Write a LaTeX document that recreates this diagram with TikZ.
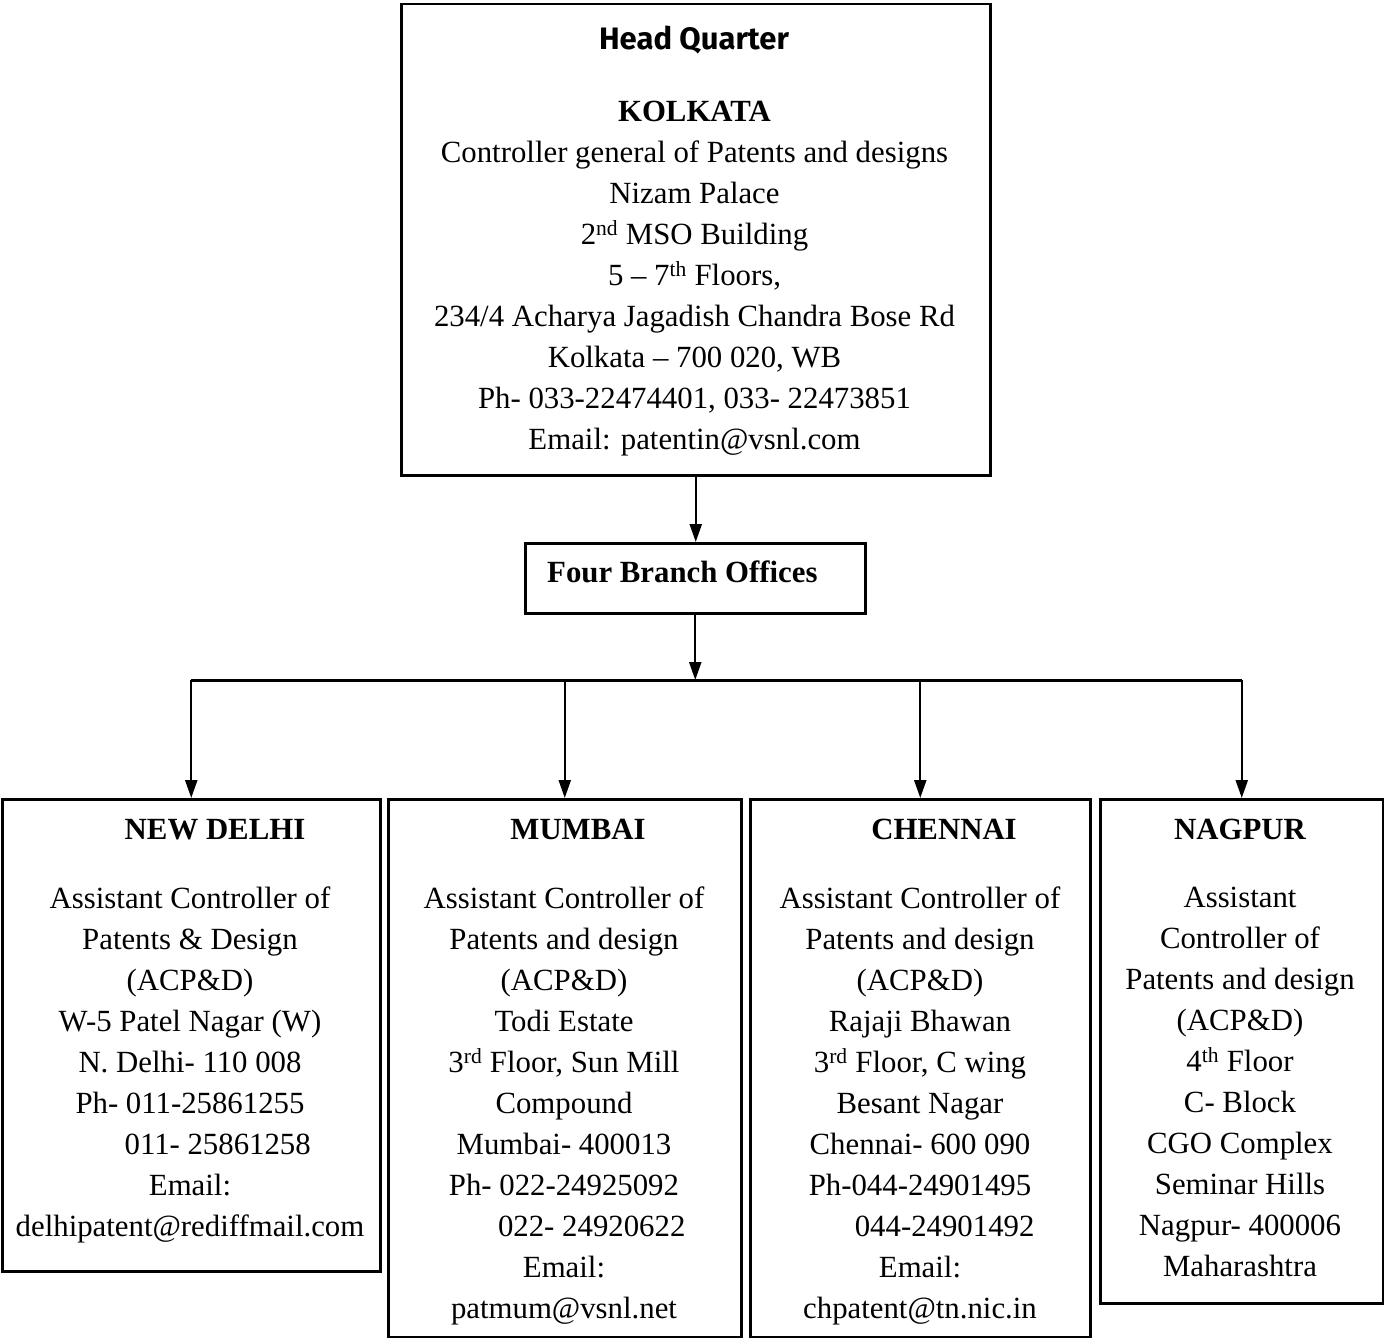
\documentclass[tikz,border=0pt]{standalone}
\usepackage{fontspec}
\setmainfont{Liberation Serif}
\newfontfamily\hqfont{Fira Sans}
\usetikzlibrary{arrows.meta,positioning}
\begin{document}
\begin{tikzpicture}[x=1pt,y=-1pt,
	officebox/.style={draw,line width=2.5pt,anchor=north west,inner sep=0pt},
	textstyle/.style={inner sep=0pt,align=center,font=\fontsize{30.8}{41}\selectfont},
	titlestyle/.style={inner sep=0pt,anchor=base,font=\fontsize{30.8}{41}\selectfont\bfseries},
	conn/.style={line width=2.3pt,-{Triangle[length=18pt,width=12pt]}}]
				\useasboundingbox (0,0) rectangle (1384,1338);
				\node [officebox,minimum width=589,minimum height=471] (hq) at (400,3) {};
				\node [inner sep=0pt,anchor=base,font=\hqfont\fontsize{31}{41}\selectfont\bfseries] (hqtitle) at (694,50) {Head Quarter};
				\node [textstyle,anchor=north] (hqtext) at (694.5,101) {\textbf{KOLKATA}\\
					Controller general of Patents and designs\\
					Nizam Palace\\
					2\textsuperscript{nd} MSO Building\\
					5 -- 7\textsuperscript{th} Floors,\\
					234/4 Acharya Jagadish Chandra Bose Rd\\
					Kolkata -- 700 020, WB\\
					Ph- 033-22474401, 033- 22473851\\
					Email: patentin@vsnl.com};
				
				\node [officebox,minimum width=340,minimum height=70] (branch) at (524,542) {};
				\node [titlestyle,anchor=base west] (branchtext) at (547,582) {Four Branch Offices};
				
				\node [officebox,minimum width=378,minimum height=472] (delhi) at (1,798) {};
				\node [officebox,minimum width=353,minimum height=538] (mumbai) at (387,798) {};
				\node [officebox,minimum width=340,minimum height=538] (chennai) at (749,798) {};
				\node [officebox,minimum width=283,minimum height=504] (nagpur) at (1099,798) {};
				
				\node [titlestyle] (delhititle) at (215,839) {NEW DELHI};
				\node [titlestyle] (mumbaititle) at (578,839) {MUMBAI};
				\node [titlestyle] (chennaititle) at (944,839) {CHENNAI};
				\node [titlestyle] (nagpurtitle) at (1240,839) {NAGPUR};
				
				\node [textstyle,anchor=north] (delhitext) at (190,887) {Assistant Controller of\\
					Patents \& Design\\
					(ACP\&D)\\
					W-5 Patel Nagar (W)\\
					N. Delhi- 110 008\\
					Ph- 011-25861255\\
					\hspace*{1.8em}011- 25861258\\
					Email:\\
					delhipatent@rediffmail.com};
				\node [textstyle,anchor=north] (mumbaitext) at (564,887) {Assistant Controller of\\
					Patents and design\\
					(ACP\&D)\\
					Todi Estate\\
					3\textsuperscript{rd} Floor, Sun Mill\\
					Compound\\
					Mumbai- 400013\\
					Ph- 022-24925092\\
					\hspace*{1.8em}022- 24920622\\
					Email:\\
					patmum@vsnl.net};
				\node [textstyle,anchor=north] (chennaitext) at (920,887) {Assistant Controller of\\
					Patents and design\\
					(ACP\&D)\\
					Rajaji Bhawan\\
					3\textsuperscript{rd} Floor, C wing\\
					Besant Nagar\\
					Chennai- 600 090\\
					Ph-044-24901495\\
					\hspace*{1.6em}044-24901492\\
					Email:\\
					chpatent@tn.nic.in};
				\node [textstyle,anchor=north] (nagpurtext) at (1240,887) {Assistant\\
					Controller of\\
					Patents and design\\
					(ACP\&D)\\
					4\textsuperscript{th} Floor\\
					C- Block\\
					CGO Complex\\
					Seminar Hills\\
					Nagpur- 400006\\
					Maharashtra};
				
				\coordinate (bus) at (branch.south |- 0,680);
				\draw[conn] (hq.south) -- (hq.south |- branch.north);
				\draw[conn] (branch.south) -- (bus);
				\draw[line width=3pt] (delhi.north |- bus) -- (nagpur.north |- bus);
				\foreach \b in {delhi,mumbai,chennai,nagpur}
				\draw[conn] (\b.north |- bus) -- (\b.north);
				
			\end{tikzpicture}
\end{document}
